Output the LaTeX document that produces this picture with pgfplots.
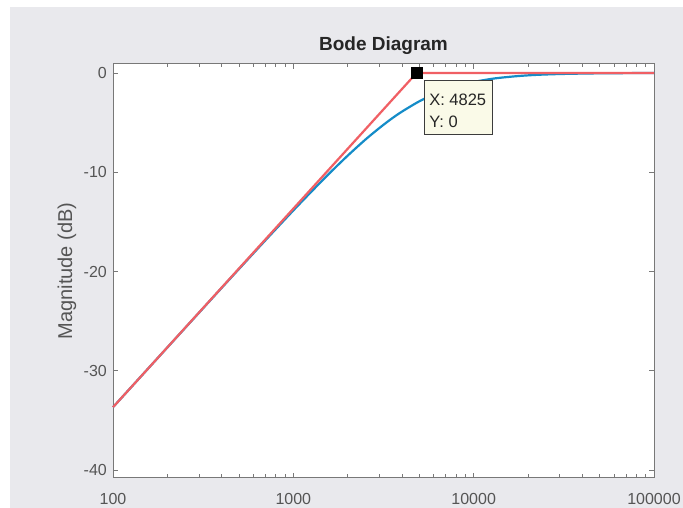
\documentclass[border=0pt]{standalone}
\usepackage{pgfplots}
\pgfplotsset{compat=1.18}
\usepackage{fontspec}
\setmainfont{Liberation Sans}
\definecolor{figbg}{RGB}{233,233,237}
\definecolor{axgray}{RGB}{120,120,120}
\definecolor{txtgray}{RGB}{85,85,85}
\definecolor{mblue}{RGB}{20,140,200}
\definecolor{mred}{RGB}{240,95,100}
\definecolor{tipbg}{RGB}{250,250,232}
\definecolor{tipedge}{RGB}{60,60,60}
\begin{document}
\begin{tikzpicture}[x=1pt,y=1pt]
\useasboundingbox (0,0) rectangle (683,508);
\fill[white] (0,0) rectangle (683,508);
\fill[figbg] (10,0) rectangle (683,501);
\begin{axis}[
  at={(113pt,30pt)}, anchor=south west,
  scale only axis, width=541pt, height=414pt,
  xmode=log, xmin=100, xmax=100000, ymin=-40.8, ymax=0.9,
  axis background/.style={fill=white},
  xtick={100,1000,10000,100000},
  xticklabels={100,1000,10000,100000},
  minor xtick={200,300,400,500,600,700,800,900,2000,3000,4000,5000,6000,7000,8000,9000,20000,30000,40000,50000,60000,70000,80000,90000},
  ytick={-40,-30,-20,-10,0},
  yticklabels={-40,-30,-20,-10,0},
  tick align=inside,
  major tick length=5pt, minor tick length=3.5pt,
  tick style={axgray, line width=0.8pt},
  axis line style={axgray, line width=1pt},
  ticklabel style={font=\fontsize{16}{18}\selectfont, text=txtgray},
  xticklabel style={anchor=north, inner sep=0pt, yshift=-15pt},
  yticklabel style={anchor=east, inner sep=0pt, xshift=-6pt},
  ylabel={Magnitude (dB)},
  ylabel style={at={(axis description cs:-0.085,0.5)}, anchor=center, font=\fontsize{20}{22}\selectfont, text=txtgray},
  title={Bode Diagram},
  title style={at={(axis description cs:0.5,1)}, anchor=base, yshift=7pt, font=\bfseries\fontsize{19}{21}\selectfont, text=black!85},
  clip=false,
]
\addplot[mblue, line width=2.2pt, smooth] coordinates {
(100,-33.67) (150,-30.15) (200,-27.66) (300,-24.15) (400,-21.66) (500,-19.74)
(700,-16.86) (1000,-13.85) (1300,-11.70) (1600,-10.04) (2000,-8.34) (2500,-6.74)
(3000,-5.55) (3500,-4.62) (4000,-3.90) (4825,-3.01) (5500,-2.48) (6500,-1.91)
(8000,-1.35) (10000,-0.91) (13000,-0.56) (17000,-0.34) (22000,-0.20) (30000,-0.11)
(45000,-0.05) (70000,-0.02) (100000,-0.01)
};
\addplot[mred, line width=2.2pt] coordinates {
(100,-33.67) (4825,0) (100000,0)
};
\addplot[only marks, mark=square*, mark size=5.5pt, mark options={fill=black, draw=black}] coordinates {(4825,0)};
\node[draw=tipedge, line width=0.9pt, fill=tipbg, anchor=north west, minimum width=68pt, minimum height=54pt, inner sep=0pt] (tip) at (axis cs:4825,0) [xshift=7.5pt, yshift=-7.5pt] {};
\node[anchor=north west, inner sep=0pt, align=left, font=\fontsize{16.5}{22}\selectfont, text=black!85] at ([xshift=5pt, yshift=-13pt]tip.north west) {X: 4825\\Y: 0};
\end{axis}
\end{tikzpicture}
\end{document}
